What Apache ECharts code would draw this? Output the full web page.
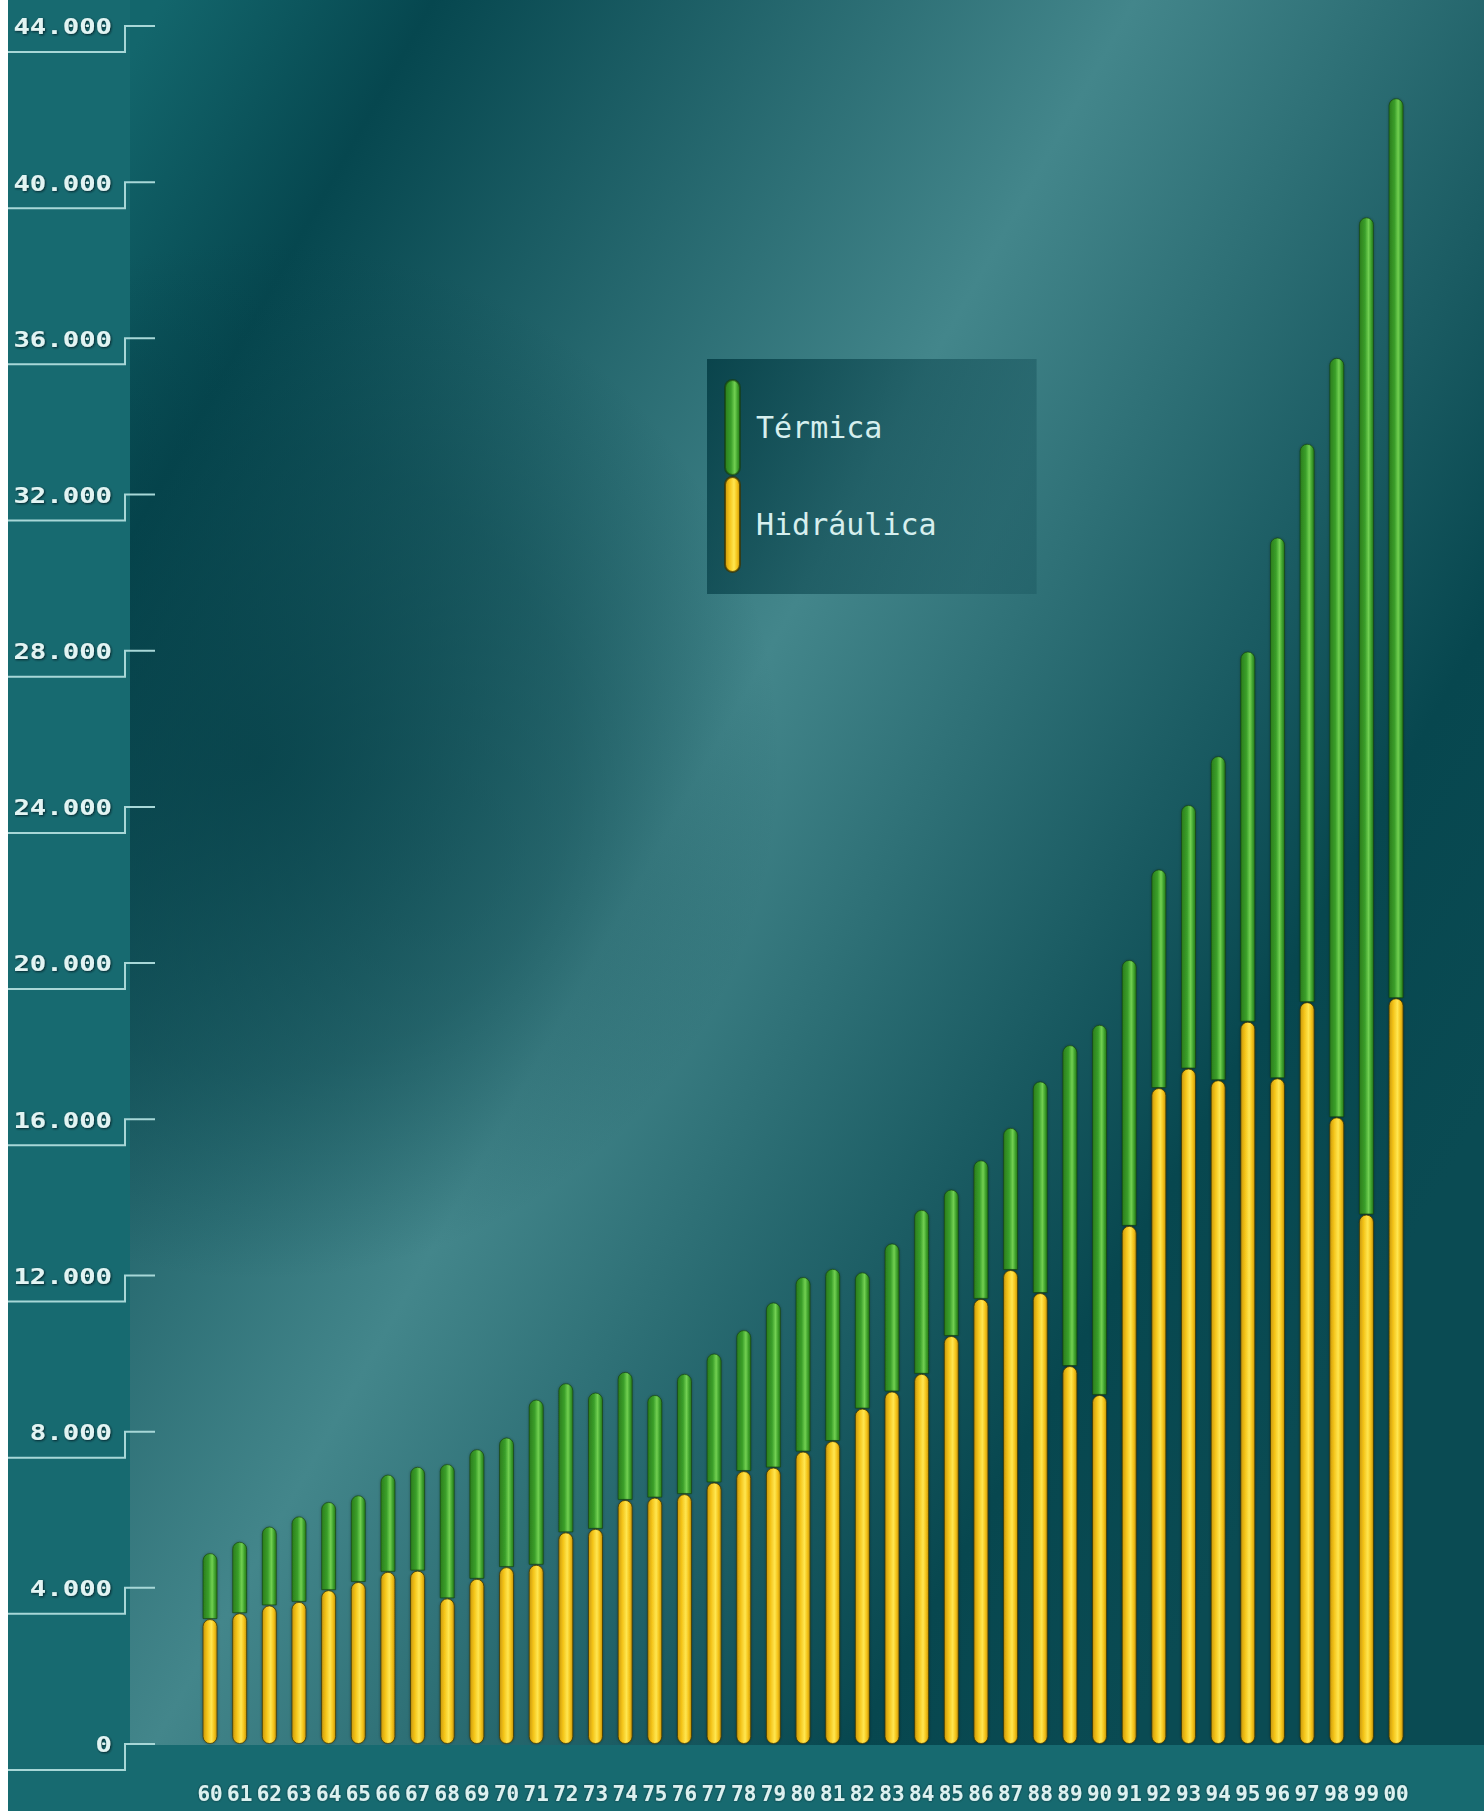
<!DOCTYPE html>
<html>
<head>
<meta charset="utf-8">
<style>
  html, body { margin: 0; padding: 0; background: #ffffff; }
  #chart { width: 1484px; height: 1811px; }
</style>
<script src="https://cdn.jsdelivr.net/npm/echarts@6/dist/echarts.min.js"></script>
</head>
<body>
<div id="chart"></div>
<script>
// ---- data ----
const years = ['60','61','62','63','64','65','66','67','68','69','70','71','72','73','74','75','76','77','78','79',
               '80','81','82','83','84','85','86','87','88','89','90','91','92','93','94','95','96','97','98','99','00'];
const hidraulica = [3200,3350,3550,3640,3940,4150,4410,4440,3730,4230,4530,4590,5420,5510,6250,6310,6400,6700,6990,7080,
                    7490,7760,8590,9030,9480,10450,11400,12140,11550,9680,8940,13270,16800,17300,17000,18500,17050,19000,16050,13560,19100];
const termica = [1690,1830,2020,2190,2260,2220,2490,2660,3440,3320,3320,4230,3820,3490,3280,2630,3080,3300,3610,4230,
                 4470,4410,3490,3790,4200,3750,3550,3640,5420,8220,9480,6810,5600,6750,8300,9480,13850,14300,19450,25540,23050];
const yTicks = [0,4000,8000,12000,16000,20000,24000,28000,32000,36000,40000,44000];
const yTickLabels = ['0','4.000','8.000','12.000','16.000','20.000','24.000','28.000','32.000','36.000','40.000','44.000'];
const seriesNames = ['Térmica','Hidráulica'];

const chart = echarts.init(document.getElementById('chart'), null, { renderer: 'svg' });

const yellowGrad = new echarts.graphic.LinearGradient(0, 0, 1, 0, [
  { offset: 0, color: '#c9980c' },
  { offset: 0.3, color: '#f4c419' },
  { offset: 0.6, color: '#ffe650' },
  { offset: 0.8, color: '#f5c41a' },
  { offset: 1, color: '#c4940b' }
]);
const greenGrad = new echarts.graphic.LinearGradient(0, 0, 1, 0, [
  { offset: 0, color: '#2b7d1c' },
  { offset: 0.4, color: '#3b9f2a' },
  { offset: 0.65, color: '#72d052' },
  { offset: 0.85, color: '#3c9e2a' },
  { offset: 1, color: '#2a7a1c' }
]);
const bgGrad = new echarts.graphic.LinearGradient(20, 250, 1500, 1083, [
  { offset: 0, color: '#13666c' },
  { offset: 0.14, color: '#06474f' },
  { offset: 0.5, color: '#43868b' },
  { offset: 0.86, color: '#07474f' },
  { offset: 1, color: '#0a4b53' }
], true);
const shadeGrad = new echarts.graphic.RadialGradient(260, 760, 520, [
  { offset: 0, color: 'rgba(4,62,70,0.75)' },
  { offset: 0.6, color: 'rgba(4,62,70,0.4)' },
  { offset: 1, color: 'rgba(4,62,70,0)' }
], true);
const legendBg = new echarts.graphic.LinearGradient(0, 0, 1, 0.3, [
  { offset: 0, color: 'rgba(3,60,68,0.85)' },
  { offset: 1, color: 'rgba(30,92,100,0.55)' }
]);

const legendIcon = 'path://M0,7.5 A7.5,7.5 0 0 1 15,7.5 L15,87.5 A7.5,7.5 0 0 1 0,87.5 Z';

const option = {
  animation: false,
  backgroundColor: '#ffffff',
  graphic: [
    { type: 'rect', z: -10, silent: true, shape: { x: 8, y: 0, width: 1476, height: 1811 }, style: { fill: '#176a70' } },
    { type: 'rect', z: -9, silent: true, shape: { x: 130, y: 0, width: 1354, height: 1745 }, style: { fill: bgGrad } },
    { type: 'rect', z: -8, silent: true, shape: { x: 130, y: 0, width: 1354, height: 1745 }, style: { fill: shadeGrad } }
  ],
  grid: { left: 195.2, right: 73.1, top: 26, bottom: 67, containLabel: false },
  legend: {
    orient: 'vertical',
    left: 707, top: 359,
    padding: [20, 100, 21, 17],
    itemGap: 0,
    itemWidth: 15,
    itemHeight: 95,
    backgroundColor: legendBg,
    textStyle: { color: '#d6efee', fontFamily: 'DejaVu Sans Mono', fontSize: 30, padding: [0, 0, 0, 11] },
    data: [{ name: seriesNames[0], icon: legendIcon }, { name: seriesNames[1], icon: legendIcon }]
  },
  xAxis: {
    type: 'category',
    data: years,
    axisLine: { show: false },
    axisTick: { show: false },
    axisLabel: { interval: 0, margin: 39, color: '#dcf1f0', fontFamily: 'DejaVu Sans Mono', fontSize: 21, fontWeight: 'bold',
                 textShadowColor: 'rgba(0,30,35,0.7)', textShadowBlur: 2 }
  },
  yAxis: {
    type: 'value', min: 0, max: 44000, interval: 4000,
    axisLine: { show: false }, axisTick: { show: false }, axisLabel: { show: false }, splitLine: { show: false }
  },
  series: [
    {
      name: seriesNames[1], type: 'bar', stack: 'total', data: hidraulica, barWidth: 15, z: 3,
      itemStyle: { color: yellowGrad, borderRadius: 7.5, borderColor: 'rgba(60,52,0,0.75)', borderWidth: 1,
                   shadowBlur: 3, shadowColor: 'rgba(0,0,0,0.35)' }
    },
    {
      name: seriesNames[0], type: 'bar', stack: 'total', data: termica, barWidth: 15, z: 2,
      itemStyle: { color: greenGrad, borderRadius: [7.5, 7.5, 0, 0], borderColor: 'rgba(20,60,10,0.6)', borderWidth: 1,
                   shadowBlur: 3, shadowColor: 'rgba(0,0,0,0.3)' }
    },
    {
      type: 'custom', silent: true, clip: false, z: 5,
      data: yTicks.map(v => [0, v]),
      encode: { x: 0, y: 1 },
      renderItem: function (params, api) {
        const y = api.coord([0, api.value(1)])[1];
        const label = yTickLabels[params.dataIndex];
        return {
          type: 'group',
          children: [
            { type: 'polyline', shape: { points: [[8, y + 26], [125, y + 26], [125, y], [155, y]] },
              style: { stroke: '#a8d7d7', lineWidth: 2, fill: null } },
            { type: 'text', x: 112, y: y + 1, scaleX: 1.3,
              style: { text: label, font: 'bold 21px "DejaVu Sans Mono"', fill: '#e2f4f3',
                       align: 'right', verticalAlign: 'middle',
                       textShadowColor: 'rgba(0,25,30,0.85)', textShadowBlur: 2, textShadowOffsetX: 1, textShadowOffsetY: 1 } }
          ]
        };
      }
    }
  ]
};
chart.setOption(option);
</script>
</body>
</html>
